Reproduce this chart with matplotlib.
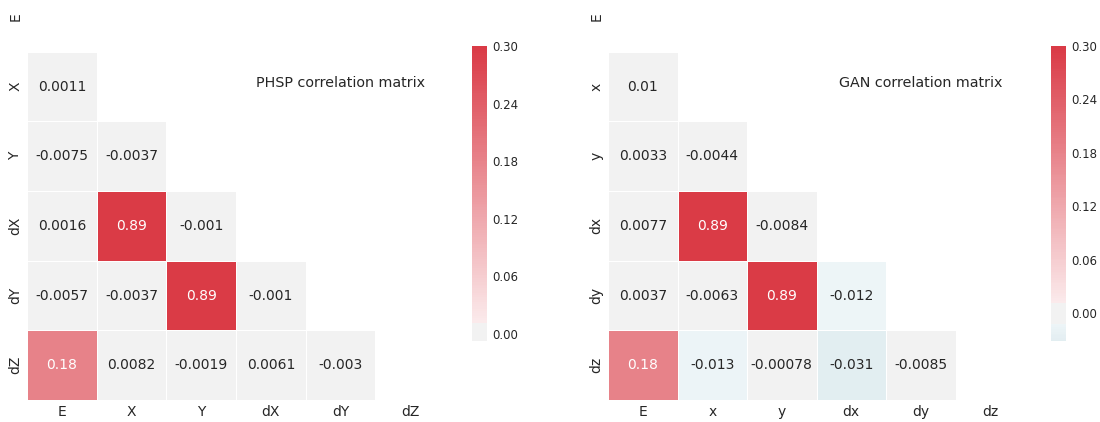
import colorsys
import numpy as np
import matplotlib
matplotlib.use("Agg")
import matplotlib.pyplot as plt
from matplotlib.colors import LinearSegmentedColormap
import seaborn as sns
from seaborn.external import husl

phsp_labels = ["E", "X", "Y", "dX", "dY", "dZ"]
gan_labels = ["E", "x", "y", "dx", "dy", "dz"]

# lower triangle rows (below the diagonal)
phsp_rows = [
    [0.0011],
    [-0.0075, -0.0037],
    [0.0016, 0.89, -0.001],
    [-0.0057, -0.0037, 0.89, -0.001],
    [0.18, 0.0082, -0.0019, 0.0061, -0.003],
]
gan_rows = [
    [0.01],
    [0.0033, -0.0044],
    [0.0077, 0.89, -0.0084],
    [0.0037, -0.0063, 0.89, -0.012],
    [0.18, -0.013, -0.00078, -0.031, -0.0085],
]
cbar_ticks = [0.00, 0.06, 0.12, 0.18, 0.24, 0.30]


def old_light_ramp(h, n, reverse=False):
    # light ramp as the older seaborn built it (tinted light end)
    rgb = husl.husl_to_rgb(h, 75, 50)
    hh, ll, ss = colorsys.rgb_to_hls(*rgb)
    light = colorsys.hls_to_rgb(hh, .95, ss)
    ends = [rgb, light] if reverse else [light, rgb]
    ramp = LinearSegmentedColormap.from_list("r", ends)
    return [ramp(x)[:3] for x in np.linspace(0, 1, n)]


def old_diverging(h_neg, h_pos, sep=10):
    half = int(128 - sep / 2)
    neg = old_light_ramp(h_neg, half, reverse=True)
    pos = old_light_ramp(h_pos, half)
    mid = [(.95, .95, .95)] * sep
    return LinearSegmentedColormap.from_list("div", neg + mid + pos)


def build_corr(rows):
    n = len(rows) + 1
    corr = np.eye(n)
    for i, r in enumerate(rows):
        for j, v in enumerate(r):
            corr[i + 1, j] = v
            corr[j, i + 1] = v
    return corr


def paint(fig, ax_rect, cbar_rect, corr, labels, title):
    ax = fig.add_axes(ax_rect)
    cax = fig.add_axes(cbar_rect)
    mask = np.triu(np.ones_like(corr, dtype=bool))
    cmap = old_diverging(220, 10)
    sns.heatmap(corr, mask=mask, cmap=cmap, vmax=.3, center=0,
                linewidths=.5, annot=True, fmt=".2g",
                annot_kws={"fontsize": 10},
                xticklabels=labels, yticklabels=labels,
                ax=ax, cbar_ax=cax)
    ax.set_ylim(len(labels), 0.5)
    ax.tick_params(length=0, labelsize=10, colors="#262626")
    ax.set_xticklabels(labels, rotation=0)
    ax.set_yticklabels(labels, rotation=90, va="center")
    ax.set_position(ax_rect)
    cax.set_yticks(cbar_ticks)
    cax.set_yticklabels(["%.2f" % t for t in cbar_ticks])
    cax.tick_params(length=0, labelsize=8.5, colors="#262626")
    ax.text(4.5, 1.45, title, ha="center", va="center",
            fontsize=10.3, color="#262626")
    return ax


sns.set_style("white")
fig = plt.figure(figsize=(11, 4.22), dpi=100)

paint(fig, [27/1100, 22/422, 418/1100, 383/422],
      [472/1100, 81/422, 15/1100, 295/422],
      build_corr(phsp_rows), phsp_labels, "PHSP correlation matrix")
paint(fig, [608/1100, 22/422, 417/1100, 383/422],
      [1051/1100, 81/422, 15/1100, 295/422],
      build_corr(gan_rows), gan_labels, "GAN correlation matrix")

fig.savefig("out.png", dpi=100)
